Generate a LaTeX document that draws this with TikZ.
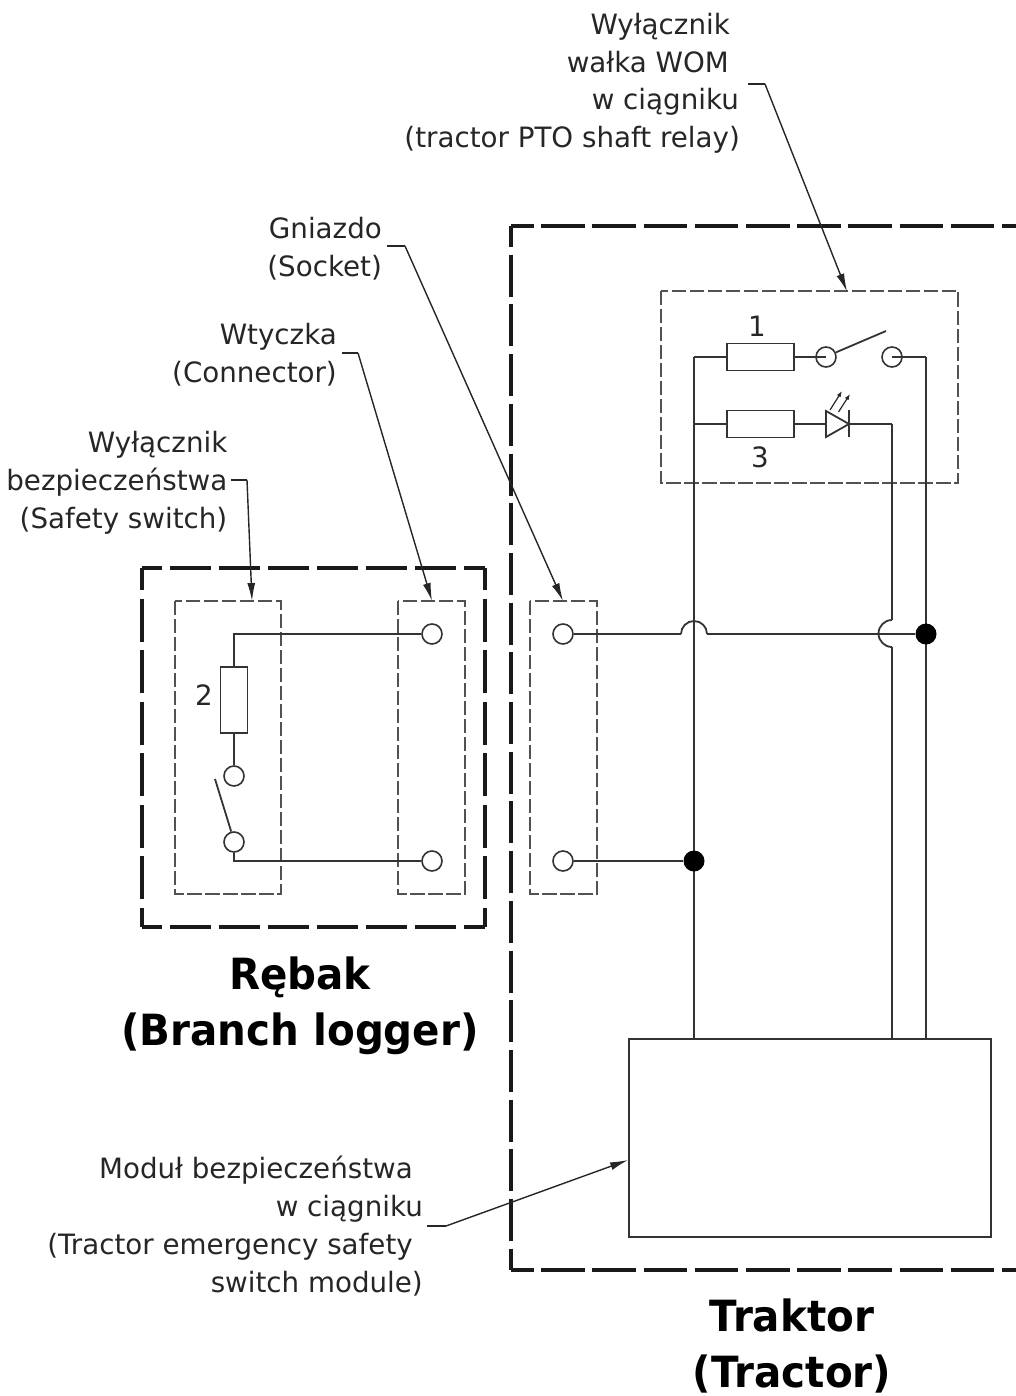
\documentclass[tikz,border=0pt]{standalone}
\usepackage{fontspec}
\setmainfont{DejaVu Sans}[FakeStretch=0.99]
\newfontfamily\headfont{DejaVu Sans Bold}[FakeStretch=0.94]
\usetikzlibrary{arrows.meta}
\tikzset{
  wire/.style={line width=1.8pt,black!80},
  heavydash/.style 2 args={line width=3.3pt,black!90,dash pattern=on #1pt off #2pt,dash phase=21pt},
  lightdash/.style={line width=1.6pt,black!68,dash pattern=on 14.5pt off 3.5pt},
  term/.style={circle,draw=black!80,line width=1.6pt,fill=white,minimum size=20pt,inner sep=0pt},
  openterm/.style={circle,draw=black!80,line width=1.6pt,minimum size=20pt,inner sep=0pt},
  junction/.style={circle,fill=black,minimum size=21pt,inner sep=0pt},
  res/.style={rectangle,draw=black!80,line width=1.8pt,fill=white,inner sep=0pt},
  leader/.style={line width=1.4pt,black!85},
  leadarrow/.style={leader,-{Latex[length=18pt,width=8pt]}},
  smallarrow/.style={line width=1.2pt,black!85,-{Latex[length=6pt,width=4.5pt]}},
  lbl/.style={font=\fontsize{28}{36}\selectfont,inner sep=0pt,anchor=base east,text=black!85},
  title/.style={font=\fontsize{43}{55.5}\selectfont\headfont,inner sep=0pt,align=center,text=black},
  num/.style={font=\fontsize{28}{34}\selectfont,inner sep=0pt,text=black!85},
}
\begin{document}
\begin{tikzpicture}[x=1pt,y=-1pt]
\useasboundingbox (0,0) rectangle (1016,1396);
% heavy dashed frames
\coordinate (la) at (142,568); \coordinate (lb) at (485,568);
\coordinate (lc) at (485,927); \coordinate (ld) at (142,927);
\draw[heavydash={41}{8}] (la) -- (lb);
\draw[heavydash={43}{8.5}] (la) -- (ld);
\draw[heavydash={41}{8}] (ld) -- (lc);
\draw[heavydash={43}{8.5}] (lb) -- (lc);
\coordinate (ta) at (511,226); \coordinate (tb) at (1016,226);
\coordinate (tc) at (1016,1270); \coordinate (td) at (511,1270);
\draw[heavydash={43.5}{7.7}] (ta) -- (tb);
\draw[heavydash={42}{7.7}] (ta) -- (td);
\draw[heavydash={43.5}{7.7}] (td) -- (tc);
% light dashed boxes
\node[inner sep=0pt,minimum width=297pt,minimum height=192pt] (ptobox) at (809.5,387) {};
\node[inner sep=0pt,minimum width=106pt,minimum height=293pt] (safebox) at (228,747.5) {};
\node[inner sep=0pt,minimum width=67pt,minimum height=293pt] (connbox) at (431.5,747.5) {};
\node[inner sep=0pt,minimum width=67pt,minimum height=293pt] (sockbox) at (563.5,747.5) {};
\foreach \b in {ptobox,safebox,connbox,sockbox}
  \draw[lightdash] (\b.north west) rectangle (\b.south east);
% module
\node[rectangle,draw=black!80,line width=1.8pt,inner sep=0pt,minimum width=362pt,minimum height=198pt] (module) at (810,1138) {};
% named coordinates
\coordinate (tl) at (694,357);
\coordinate (ml) at (694,424);
\coordinate (br) at (926,357);
\coordinate (bl) at (892,424);
\coordinate (hopA) at (681,634);
\coordinate (hopB) at (707,634);
\coordinate (hopT) at (892,620);
\coordinate (hopU) at (892,647);
\coordinate (ltop) at (234,634);
\coordinate (lbot) at (234,861);
% tractor wires
\draw[wire] (tl) -- (tl |- module.north);
\draw[wire] (br) -- (br |- module.north);
\draw[wire] (bl) -- (hopT);
\draw[wire] (hopU) -- (bl |- module.north);
\draw[wire] (hopT) arc[start angle=270,end angle=90,radius=13.5];
% components PTO
\node[res,minimum width=67pt,minimum height=27pt] (r1) at (760.5,357) {};
\node[res,minimum width=67pt,minimum height=27pt] (r3) at (760.5,424) {};
\draw[wire] (tl) -- (r1.west);
\draw[wire] (r1.east) -- (826,357);
\draw[wire] (892,357) -- (br);
\draw[wire] (ml) -- (r3.west);
\node[openterm] (s1) at (826,357) {};
\node[openterm] (s2) at (892,357) {};
\draw[wire] (s1.25) -- (886,331);
% LED
\coordinate (ledL) at (826,424);
\coordinate (ledR) at (849,424);
\draw[wire] (r3.east) -- (ledL);
\draw[wire,line join=miter] (ledL |- 0,411) -- (ledL |- 0,437) -- (ledR) -- cycle;
\draw[wire] (ledR |- 0,410) -- (ledR |- 0,437);
\draw[wire] (ledR) -- (bl);
\draw[smallarrow] (830,410) -- (842,391);
\draw[smallarrow] (838.5,412) -- (850,394);
% socket and horizontals
\node[term] (sk1) at (563,634) {};
\node[term] (sk2) at (563,861) {};
\node[junction] (j1) at (926,634) {};
\node[junction] (j2) at (694,861) {};
\draw[wire] (sk1) -- (hopA);
\draw[wire] (hopA) arc[start angle=180,end angle=360,radius=13];
\draw[wire] (hopB) -- (j1);
\draw[wire] (sk2) -- (j2);
% logger circuit
\node[term] (c1) at (432,634) {};
\node[term] (c2) at (432,861) {};
\node[res,minimum width=27pt,minimum height=66pt] (r2) at (234,700) {};
\node[term] (t1) at (234,776) {};
\node[term] (t2) at (234,842) {};
\draw[wire] (c1) -- (ltop) -- (r2.north);
\draw[wire] (r2.south) -- (t1);
\draw[wire] (t2) -- (lbot) -- (c2);
\draw[wire] (t2.105) -- (215,779);
% numbers
\node[num] (n1) at (757,326) {1};
\node[num] (n3) at (760,457) {3};
\node[num] (n2) at (204,695) {2};
% labels
\node[lbl] (lpto1) at (730,35) {Wyłącznik};
\node[lbl] (lpto2) at (729,73) {wałka WOM};
\node[lbl] (lpto3) at (739,110) {w ciągniku};
\node[lbl] (lpto4) at (740,148) {(tractor PTO shaft relay)};
\node[lbl] (lgn1) at (382,239) {Gniazdo};
\node[lbl] (lgn2) at (382,277) {(Socket)};
\node[lbl] (lwt1) at (337,344) {Wtyczka};
\node[lbl] (lwt2) at (337,382) {(Connector)};
\node[lbl] (lsf1) at (227.5,452) {Wyłącznik};
\node[lbl] (lsf2) at (227.5,490) {bezpieczeństwa};
\node[lbl] (lsf3) at (227.5,528) {(Safety switch)};
\node[lbl] (lm1) at (413,1178) {Moduł bezpieczeństwa};
\node[lbl] (lm2) at (423,1216) {w ciągniku};
\node[lbl] (lm3) at (413,1254) {(Tractor emergency safety};
\node[lbl] (lm4) at (423,1292) {switch module)};
% titles
\node[title] (treb) at (300,1006) {Rębak\\(Branch logger)};
\node[title] (ttra) at (792,1346) {Traktor\\(Tractor)};
% leaders
\coordinate (k1) at (748,84); \coordinate (k1b) at (765,84);
\coordinate (k2) at (387,246); \coordinate (k2b) at (405,246);
\coordinate (k3) at (342,353); \coordinate (k3b) at (358,353);
\coordinate (k4) at (231,480); \coordinate (k4b) at (247,480);
\coordinate (k5) at (427,1226); \coordinate (k5b) at (446,1226);
\draw[leader] (k1) -- (k1b); \draw[leadarrow] (k1b) -- (847,291.5);
\draw[leader] (k2) -- (k2b); \draw[leadarrow] (k2b) -- (563,601);
\draw[leader] (k3) -- (k3b); \draw[leadarrow] (k3b) -- (432,601);
\draw[leader] (k4) -- (k4b); \draw[leadarrow] (k4b) -- (252,601);
\draw[leader] (k5) -- (k5b); \draw[leadarrow] (k5b) -- (module.west |- 0,1160);
\end{tikzpicture}
\end{document}
